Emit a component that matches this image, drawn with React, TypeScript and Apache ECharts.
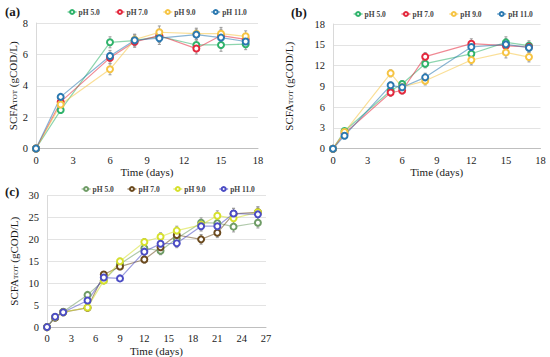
import React, { useEffect, useRef } from "react";
import * as echarts from "echarts";

// ---------- Panel (a) ----------
const daysA = [0, 2, 6, 8, 10, 13, 15, 17];
const a_pH5 = [0, 2.45, 6.77, 6.88, 7.15, 6.6, 6.6, 6.65];
const a_pH7 = [0, 2.97, 5.78, 6.8, 7.2, 6.37, 7.2, 6.96];
const a_pH9 = [0, 2.8, 5.05, 6.94, 7.41, 7.32, 7.32, 7.15];
const a_pH11 = [0, 3.29, 5.9, 6.9, 7.03, 7.26, 7.07, 6.82];
const errA = [0, 0.15, 0.35, 0.35, 0.4, 0.35, 0.4, 0.35];

// ---------- Panel (b) ----------
const daysB = [0, 1, 5, 6, 8, 12, 15, 17];
const b_pH5 = [0, 2.55, 8.37, 9.34, 12.27, 13.7, 15.35, 14.87];
const b_pH7 = [0, 2.2, 8.1, 8.4, 13.28, 15.16, 14.87, 14.68];
const b_pH9 = [0, 2.4, 10.88, 8.9, 9.8, 12.8, 13.9, 13.23];
const b_pH11 = [0, 1.88, 9.15, 8.86, 10.3, 14.68, 15.06, 14.58];
const errB = [0, 0.3, 0.5, 0.5, 0.6, 0.7, 0.8, 0.7];

// ---------- Panel (c) ----------
const daysC = [0, 1, 2, 5, 7, 9, 12, 14, 16, 19, 21, 23, 26];
const c_pH5 = [0, 2.2, 3.5, 7.34, 10.65, 14.4, 18.0, 17.4, 20.2, 23.8, 23.7, 22.9, 23.8];
const c_pH7 = [0, 2.2, 3.4, 4.4, 12.0, 13.8, 15.4, 18.2, 21.0, 20.0, 21.5, 25.8, 26.2];
const c_pH9 = [0, 2.3, 3.4, 4.46, 10.6, 15.0, 19.4, 20.6, 22.0, 23.3, 25.4, 24.8, 26.2];
const c_pH11 = [0, 2.36, 3.4, 6.05, 11.3, 11.1, 17.2, 19.0, 19.1, 23.0, 23.0, 25.9, 25.7];
const errC = [0, 0.3, 0.3, 0.5, 0.6, 0.7, 0.8, 0.9, 1.0, 1.1, 1.1, 1.2, 1.2];

const legendLabels = ["pH 5.0", "pH 7.0", "pH 9.0", "pH 11.0"];
const colorsAB = ["#2fb36b", "#e3283d", "#f6c443", "#2a78b0"];
const colorsC = ["#6f9c66", "#6b4a1e", "#d6e02c", "#4b4cc4"];

const FONT = "'Liberation Serif', 'Times New Roman', serif";
const TXT = "#1a1a1a";

function lineSeries(id: string, grid: number, xs: number[], ys: number[], color: string) {
  return {
    type: "line",
    name: id,
    xAxisIndex: grid,
    yAxisIndex: grid,
    data: xs.map((x, i) => [x, ys[i]]),
    symbol: "emptyCircle",
    symbolSize: 6,
    itemStyle: { color, borderColor: color, borderWidth: 1.4 },
    lineStyle: { color, width: 1.2, opacity: 0.55 },
    z: 3,
  };
}

function errSeries(id: string, grid: number, xs: number[], ys: number[], errs: number[]) {
  return {
    type: "custom",
    name: "err-" + id,
    xAxisIndex: grid,
    yAxisIndex: grid,
    silent: true,
    z: 2,
    encode: { x: 0, y: 1 },
    data: xs.map((x, i) => [x, ys[i], errs[i]]),
    renderItem: (_p: any, api: any) => {
      const x = api.value(0);
      const y = api.value(1);
      const e = api.value(2);
      if (!e) return { type: "group", children: [] };
      const t = api.coord([x, y + e]);
      const b = api.coord([x, y - e]);
      const st = { stroke: "#9a9a9a", lineWidth: 1 };
      return {
        type: "group",
        children: [
          { type: "line", shape: { x1: t[0], y1: t[1], x2: b[0], y2: b[1] }, style: st },
          { type: "line", shape: { x1: t[0] - 1.5, y1: t[1], x2: t[0] + 1.5, y2: t[1] }, style: st },
          { type: "line", shape: { x1: b[0] - 1.5, y1: b[1], x2: b[0] + 1.5, y2: b[1] }, style: st },
        ],
      };
    },
  };
}

function panelSeries(prefix: string, grid: number, xs: number[], sets: number[][], errs: number[], colors: string[]) {
  const out: any[] = [];
  sets.forEach((ys, k) => out.push(errSeries(prefix + k, grid, xs, ys, errs)));
  sets.forEach((ys, k) => out.push(lineSeries(prefix + k, grid, xs, ys, colors[k])));
  return out;
}

function legendFor(prefix: string, left: number, top: number, gap: number, colors: string[]) {
  return {
    left,
    top,
    padding: 0,
    itemWidth: 9,
    itemHeight: 5,
    itemGap: gap,
    selectedMode: false,
    data: [0, 1, 2, 3].map((k) => ({
      name: prefix + k,
      itemStyle: { color: colors[k], borderColor: colors[k] },
      lineStyle: { color: colors[k], width: 1.2, opacity: 0.8 },
    })),
    formatter: (n: string) => legendLabels[Number(n.slice(prefix.length))],
    textStyle: { fontFamily: FONT, fontSize: 7.5, fontWeight: "bold", color: "#444", padding: [0, 0, 0, -3] },
  };
}

const yName = "SCFA{sub|TOT} (gCOD/L)";
const yNameStyle = {
  fontFamily: FONT,
  fontSize: 11,
  color: TXT,
  rich: {
    sub: { fontFamily: FONT, fontSize: 7, color: TXT, verticalAlign: "bottom", padding: [4, 0, 0, 0] },
  },
};

function xAxisFor(grid: number, max: number, gap: number) {
  return {
    type: "value",
    gridIndex: grid,
    min: 0,
    max,
    interval: 3,
    name: "Time (days)",
    nameLocation: "middle",
    nameGap: gap,
    nameTextStyle: { fontFamily: FONT, fontSize: 11, color: TXT },
    axisLine: { show: true, lineStyle: { color: "#bfbfbf", width: 1 } },
    axisTick: { show: false },
    splitLine: { show: false },
    axisLabel: { fontFamily: FONT, fontSize: 10.5, color: TXT, margin: 6 },
  };
}

function yAxisFor(grid: number, max: number, interval: number, gap: number) {
  return {
    type: "value",
    gridIndex: grid,
    min: 0,
    max,
    interval,
    name: yName,
    nameLocation: "middle",
    nameGap: gap,
    nameTextStyle: yNameStyle,
    axisLine: { show: true, lineStyle: { color: "#d9d9d9", width: 1 } },
    axisTick: { show: false },
    splitLine: { show: true, lineStyle: { color: "#e3e3e3", width: 1 } },
    axisLabel: { fontFamily: FONT, fontSize: 10.5, color: TXT, margin: 8 },
  };
}

const titleStyle = { fontFamily: FONT, fontSize: 13, fontWeight: "bold", color: TXT };

export default function App() {
  const ref = useRef<HTMLDivElement>(null);
  useEffect(() => {
    if (!ref.current) return;
    const chart = echarts.init(ref.current, null, { renderer: "svg" });
    chart.setOption({
      animation: false,
      backgroundColor: "#ffffff",
      textStyle: { fontFamily: FONT },
      title: [
        { text: "(a)", left: 5, top: 5, padding: 0, textStyle: titleStyle },
        { text: "(b)", left: 291, top: 6, padding: 0, textStyle: titleStyle },
        { text: "(c)", left: 5, top: 185, padding: 0, textStyle: titleStyle },
      ],
      legend: [
        legendFor("a", 67, 8, 15, colorsAB),
        legendFor("b", 353, 10, 15, colorsAB),
        legendFor("c", 81, 185, 13, colorsC),
      ],
      grid: [
        { left: 36, top: 23, width: 222, height: 125.5 },
        { left: 333, top: 24, width: 207.5, height: 124.7 },
        { left: 47, top: 195.5, width: 219, height: 132.3 },
      ],
      xAxis: [xAxisFor(0, 18, 18), xAxisFor(1, 18, 18), xAxisFor(2, 27, 17.5)],
      yAxis: [yAxisFor(0, 8, 2, 17), yAxisFor(1, 18, 3, 39), yAxisFor(2, 30, 5, 28)],
      series: [
        ...panelSeries("a", 0, daysA, [a_pH5, a_pH7, a_pH9, a_pH11], errA, colorsAB),
        ...panelSeries("b", 1, daysB, [b_pH5, b_pH7, b_pH9, b_pH11], errB, colorsAB),
        ...panelSeries("c", 2, daysC, [c_pH5, c_pH7, c_pH9, c_pH11], errC, colorsC),
      ],
    });
    return () => chart.dispose();
  }, []);
  return (
    <div
      ref={ref}
      style={{ position: "fixed", left: 0, top: 0, width: 550, height: 357, background: "#fff" }}
    />
  );
}
